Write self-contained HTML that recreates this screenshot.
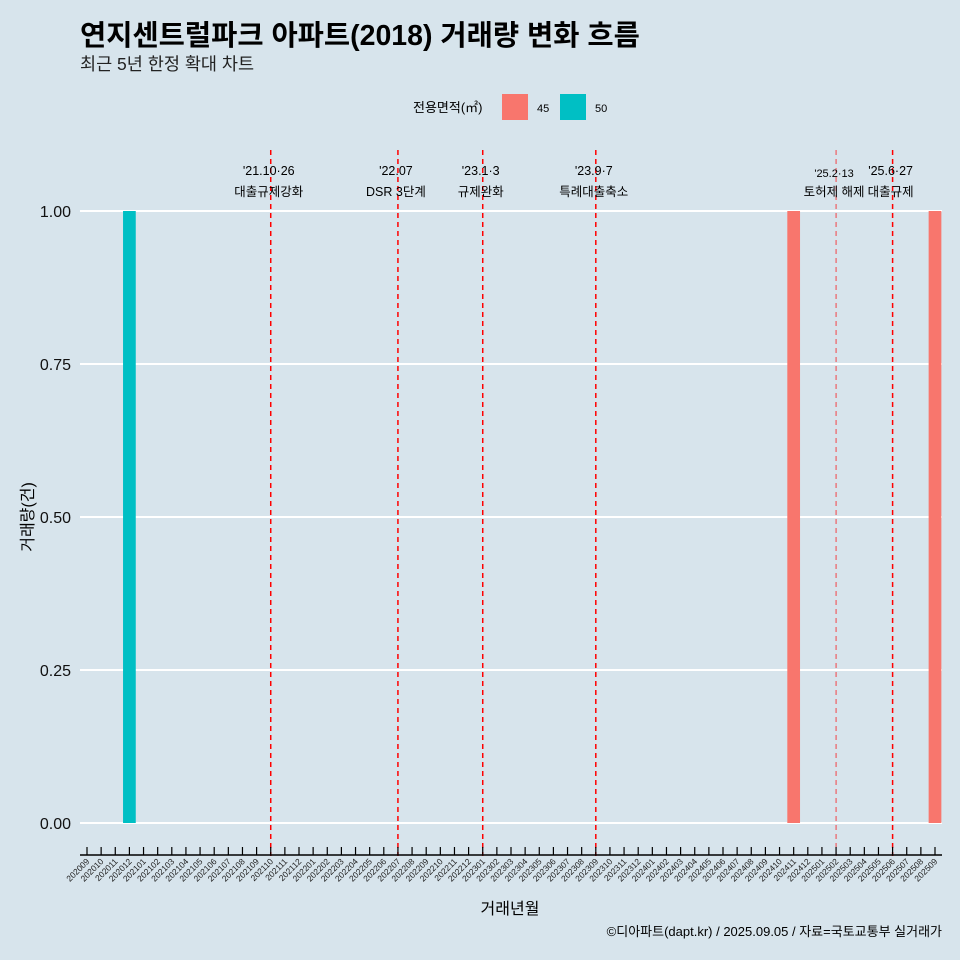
<!DOCTYPE html>
<html><head><meta charset="utf-8">
<style>
html,body{margin:0;padding:0;width:960px;height:960px;overflow:hidden;background:#d7e4ec;font-family:"Liberation Sans","Noto Sans CJK KR",sans-serif;}
svg{display:block;}
svg text{font-family:"Liberation Sans","Noto Sans CJK KR",sans-serif;}
</style></head>
<body>
<svg id="chart" width="960" height="960" xmlns="http://www.w3.org/2000/svg">
<rect width="960" height="960" fill="#d7e4ec"/>
<text x="80" y="45" font-size="28.5" font-weight="bold" fill="#000">연지센트럴파크 아파트(2018) 거래량 변화 흐름</text>
<text x="80" y="70" font-size="17.5" fill="#222">최근 5년 한정 확대 차트</text>
<g>
<text x="413" y="112" font-size="13" fill="#000">전용면적(㎡)</text>
<rect x="502" y="94" width="26" height="26" fill="#f8766d"/>
<text x="537" y="112" font-size="11" fill="#000">45</text>
<rect x="560" y="94" width="26" height="26" fill="#00bfc4"/>
<text x="595" y="112" font-size="11" fill="#000">50</text>
</g>
<g id="grid"></g><g id="bars"></g><g id="vlines"></g><g id="axes"></g>
<text x="510" y="914" font-size="16" text-anchor="middle" fill="#000">거래년월</text>
<text transform="translate(33,517) rotate(-90)" font-size="16" text-anchor="middle" fill="#000">거래량(건)</text>
<text x="942" y="936" font-size="13" text-anchor="end" fill="#000">©디아파트(dapt.kr) / 2025.09.05 / 자료=국토교통부 실거래가</text>
</svg>
<script>
const months=[];for(let y=2020;y<=2025;y++)for(let m=1;m<=12;m++){const k=y*100+m;if(k>=202009&&k<=202509)months.push(String(k));}
const seriesMonths=["202012","202411","202509"];
const seriesValues=[1,1,1];
const seriesGroup=["50","45","45"];
const yTicks=[0,0.25,0.5,0.75,1];
const yTickLabels=["0.00","0.25","0.50","0.75","1.00"];
const eventMonths=["202110","202207","202301","202309","202502","202506"];
const eventDates=["'21.10·26","'22.07","'23.1·3","'23.9·7","'25.2·13","'25.6·27"];
const eventLabels=["대출규제강화","DSR 3단계","규제완화","특례대출축소","토허제 해제","대출규제"];
const colors={"45":"#f8766d","50":"#00bfc4"};
const NS="http://www.w3.org/2000/svg";
const x0=87,step=(935-87)/60;
const xs=m=>x0+months.indexOf(m)*step;
const ys=v=>823-v*612;
function mk(t,a,p){const e=document.createElementNS(NS,t);for(const k in a)e.setAttribute(k,a[k]);document.getElementById(p).appendChild(e);return e;}
yTicks.forEach((v,i)=>{
 const l=mk('line',{x1:80,x2:942,y1:ys(v),y2:ys(v),stroke:'#fff','stroke-width':2},'grid');
 
 
 const t=mk('text',{x:71,y:ys(v)+6,'font-size':16,'text-anchor':'end',fill:'#111'},'axes');t.textContent=yTickLabels[i];
 
 
});
seriesMonths.forEach((m,i)=>{
 const w=step*0.9;
 const r=mk('rect',{x:xs(m)-w/2,y:ys(seriesValues[i]),width:w,height:ys(0)-ys(seriesValues[i]),fill:colors[seriesGroup[i]]},'bars');
 
 
});
eventMonths.forEach((m,i)=>{
 const x=xs(m);const thin=m==="202502";
 const l=mk('line',{x1:x,x2:x,y1:150,y2:856,stroke:'#ff0000','stroke-width':thin?1:1.5,'stroke-dasharray':'5,4',opacity:thin?0.7:1},'vlines');
 
 
 const t1=mk('text',{x:x-2,y:thin?177:175,'font-size':thin?11:12.5,'text-anchor':'middle',fill:'#000'},'vlines');t1.textContent=eventDates[i];
 
 
 const t2=mk('text',{x:x-2,y:196,'font-size':12.5,'text-anchor':'middle',fill:'#000'},'vlines');t2.textContent=eventLabels[i];
 
 
});
const ax=mk('line',{x1:80,x2:942,y1:855,y2:855,stroke:'#000','stroke-width':1.5},'axes');


months.forEach(m=>{
 const x=xs(m);
 const tk=mk('line',{x1:x,x2:x,y1:847,y2:855,stroke:'#000','stroke-width':1.2},'axes');
 
 
 const t=mk('text',{x:x+3,y:862,'font-size':8.5,'text-anchor':'end',fill:'#222',transform:`rotate(-45 ${x+3} 862)`},'axes');t.textContent=m;
 
 
});
</script>
</body></html>
